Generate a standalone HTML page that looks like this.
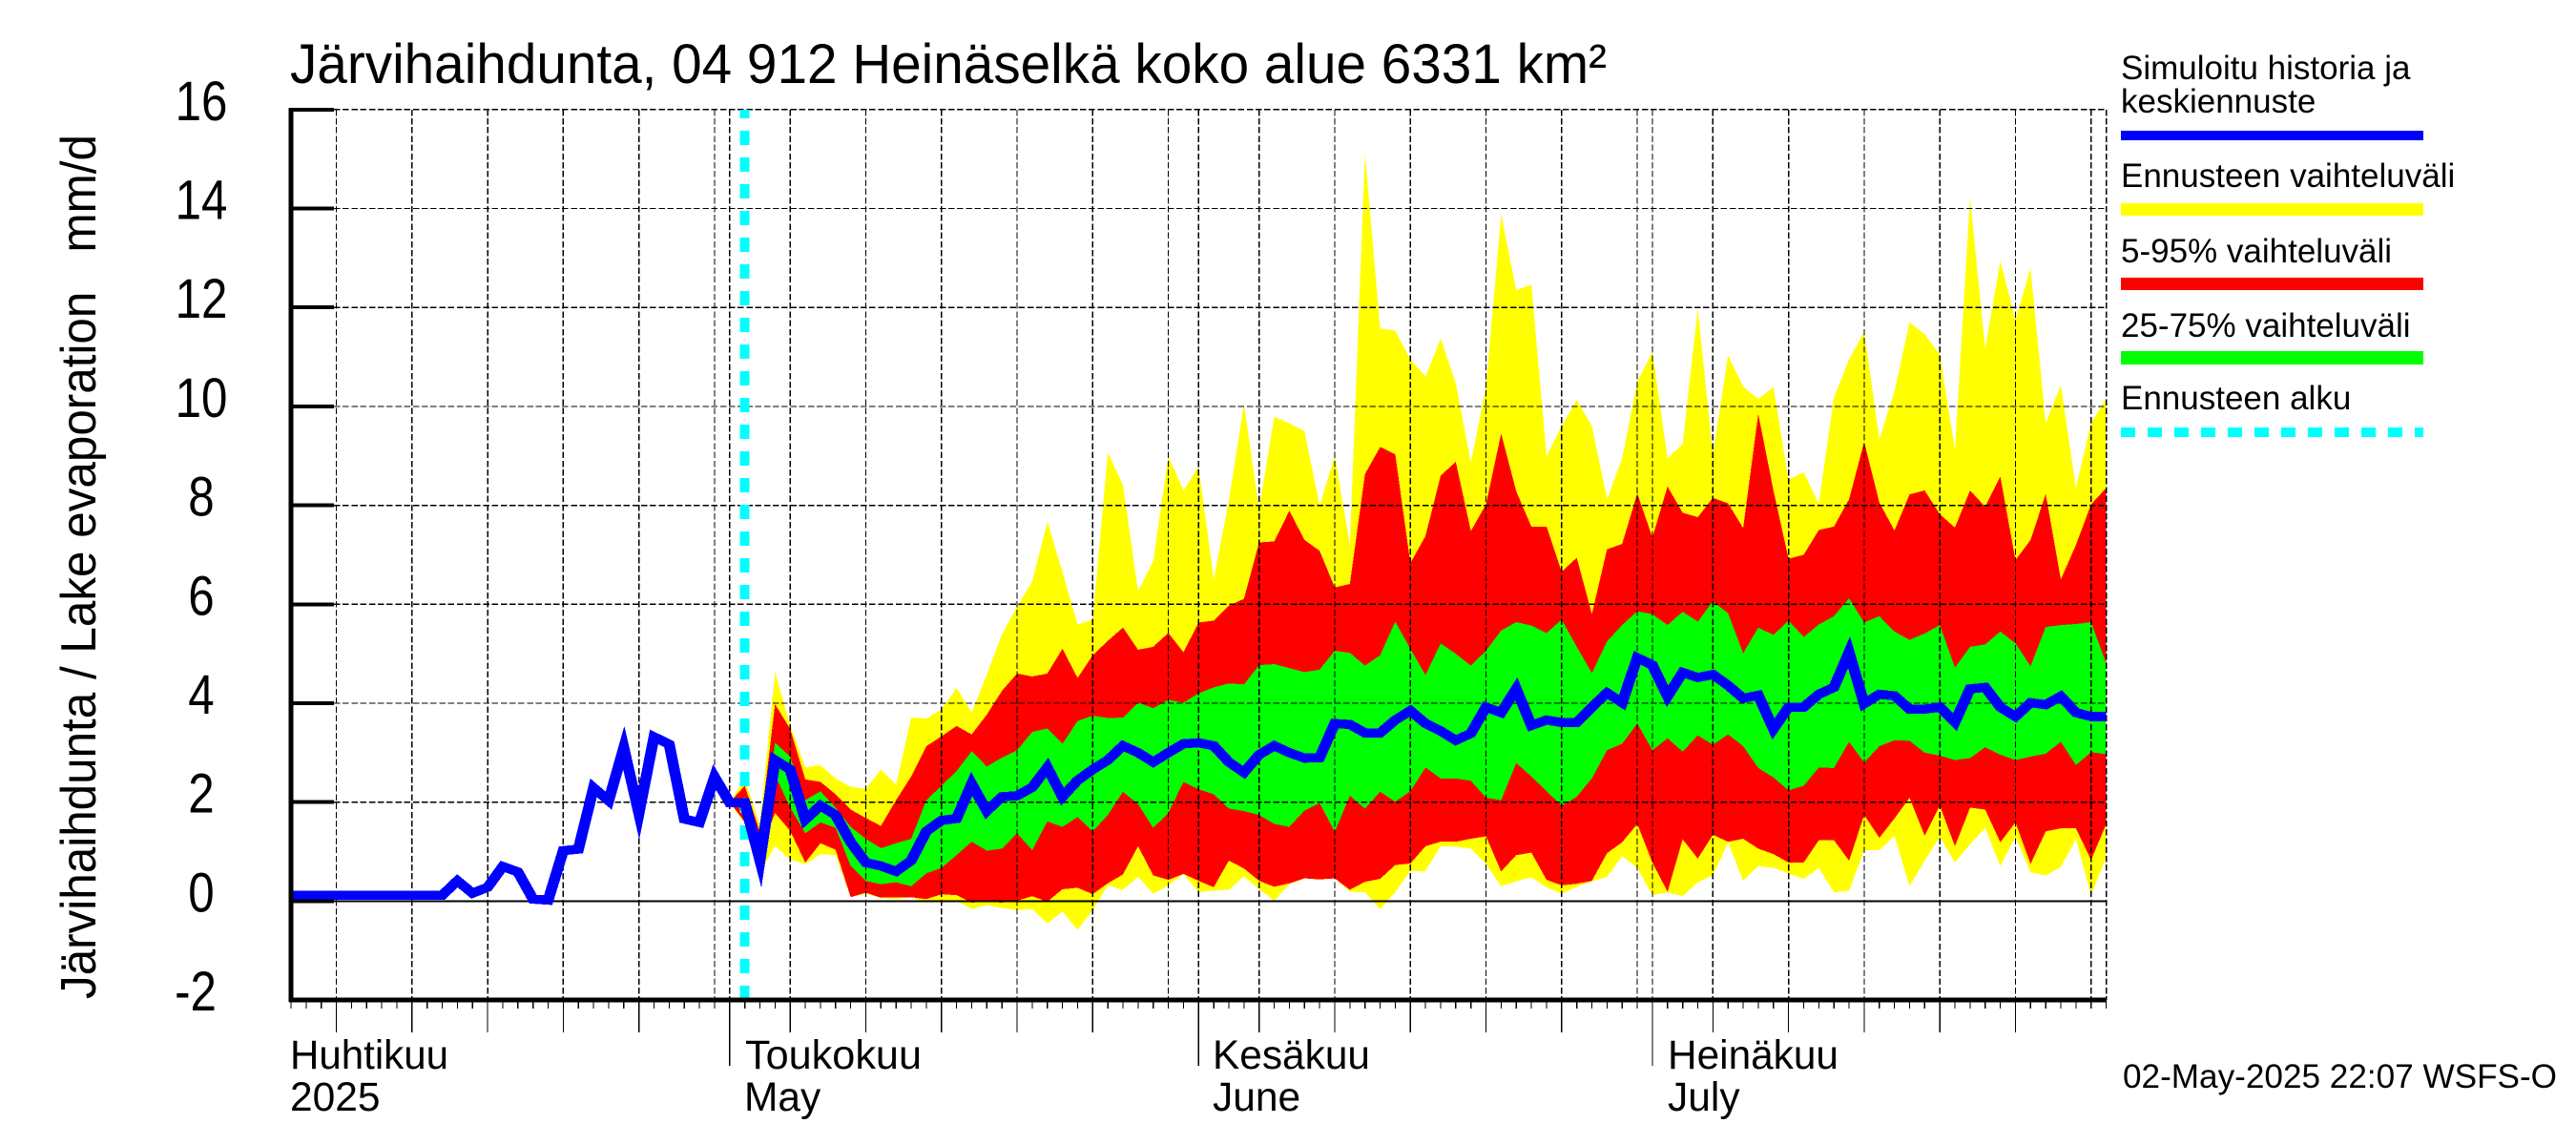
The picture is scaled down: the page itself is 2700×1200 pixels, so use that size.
<!DOCTYPE html>
<html lang="fi">
<head>
<meta charset="utf-8">
<title>Järvihaihdunta 04 912 Heinäselkä</title>
<style>
html,body{margin:0;padding:0;background:#fff;}
svg{display:block;}
text{font-family:"Liberation Sans",Arial,sans-serif;fill:#000;white-space:pre;}
</style>
</head>
<body>
<svg id="chart" xmlns="http://www.w3.org/2000/svg" width="2700" height="1200" viewBox="0 0 2700 1200">
  <rect x="0" y="0" width="2700" height="1200" fill="#fff"/>
  <text x="304" y="87" font-size="58" textLength="1380" lengthAdjust="spacingAndGlyphs">Järvihaihdunta, 04 912 Heinäselkä koko alue 6331 km²</text>
  <text transform="translate(100 1047) rotate(-90)" font-size="52" textLength="906" lengthAdjust="spacingAndGlyphs">Järvihaihdunta / Lake evaporation   mm/d</text>

  <g id="bands" shape-rendering="crispEdges"></g>
  <g id="grid" shape-rendering="crispEdges"></g>
  <g id="start" shape-rendering="crispEdges"></g>
  <g id="series" shape-rendering="crispEdges"></g>
  <g id="axes" shape-rendering="crispEdges"></g>
  <g id="yLabels"></g>

  <g font-size="42.5">
    <text x="304" y="1120" textLength="166" lengthAdjust="spacingAndGlyphs">Huhtikuu</text>
    <text x="304" y="1164">2025</text>
    <text x="781" y="1120" textLength="185" lengthAdjust="spacingAndGlyphs">Toukokuu</text>
    <text x="780" y="1164">May</text>
    <text x="1271" y="1120" textLength="165" lengthAdjust="spacingAndGlyphs">Kesäkuu</text>
    <text x="1271" y="1164">June</text>
    <text x="1748" y="1120" textLength="179" lengthAdjust="spacingAndGlyphs">Heinäkuu</text>
    <text x="1748" y="1164">July</text>
  </g>

  <g font-size="35">
    <text x="2223" y="83">Simuloitu historia ja</text>
    <text x="2223" y="118">keskiennuste</text>
    <rect x="2223" y="137" width="317" height="10" fill="#0000ff"/>
    <text x="2223" y="196">Ennusteen vaihteluväli</text>
    <rect x="2223" y="213" width="317" height="13" fill="#ffff00"/>
    <text x="2223" y="275">5-95% vaihteluväli</text>
    <rect x="2223" y="291" width="317" height="13" fill="#ff0000"/>
    <text x="2223" y="353">25-75% vaihteluväli</text>
    <rect x="2223" y="368" width="317" height="14" fill="#00ff00"/>
    <text x="2223" y="429">Ennusteen alku</text>
    <line x1="2223" y1="453" x2="2540" y2="453" stroke="#00ffff" stroke-width="10" stroke-dasharray="15 13" shape-rendering="crispEdges"/>
  </g>

  <text x="2225" y="1140" font-size="35" textLength="455" lengthAdjust="spacingAndGlyphs">02-May-2025 22:07 WSFS-O</text>
</svg>

<script>
// Chart data -------------------------------------------------------------
// Days are counted from the left edge of the axis (2 April 2025 = day 0).
const yTickValues = [16, 14, 12, 10, 8, 6, 4, 2, 0, -2];
const monthTickDays = [29, 60, 90];
const majorTickDays = [3, 8, 13, 18, 23, 33, 38, 43, 48, 53, 64, 69, 74, 79, 84, 94, 99, 104, 109, 114];
const gridDays = [3, 8, 13, 18, 23, 28, 29, 33, 38, 43, 48, 53, 58, 60, 64, 69, 74, 79, 84, 89, 90, 94, 99, 104, 109, 114, 119, 120];
const lastDay = 120;
const forecastFirstDay = 29;
const forecastStartDay = 30;

const simulatedValues = [
  0.12,0.12,0.12,0.12,0.12,0.12,0.12,0.12,0.12,0.12,0.12,0.41,0.16,0.28,0.7,0.59,0.04,0.02,1.02,1.05,
  2.29,2.03,3.1,1.77,3.32,3.17,1.66,1.59,2.51,1.99,1.99,0.82,2.85,2.66,1.65,1.93,1.74,1.19,0.78,0.71,
  0.6,0.82,1.41,1.63,1.67,2.37,1.82,2.11,2.13,2.3,2.7,2.11,2.44,2.66,2.85,3.14,3.0,2.81,3.0,3.18,
  3.2,3.14,2.81,2.6,2.96,3.14,3.0,2.89,2.9,3.59,3.57,3.4,3.4,3.66,3.85,3.59,3.44,3.25,3.39,3.92,
  3.81,4.29,3.55,3.66,3.61,3.61,3.92,4.21,4.01,4.92,4.77,4.14,4.62,4.52,4.58,4.36,4.1,4.16,3.48,3.92,
  3.92,4.18,4.32,5.03,3.99,4.18,4.15,3.88,3.88,3.92,3.62,4.29,4.32,3.92,3.73,4.01,3.97,4.14,3.81,3.73,3.73
];

const rangeMax = [
  2.0,2.46,1.55,4.63,3.55,2.7,2.75,2.48,2.31,2.27,2.66,2.35,3.71,3.69,3.87,4.31,3.81,4.58,5.39,5.95,6.46,
  7.67,6.65,5.59,5.69,9.07,8.41,6.26,6.87,8.99,8.3,8.78,6.5,8.1,10.04,7.93,9.79,9.66,9.5,7.99,8.99,
  7.21,15.1,11.58,11.53,10.95,10.6,11.37,10.47,8.86,10.4,13.88,12.35,12.46,8.99,9.6,10.13,9.6,8.12,8.95,10.5,
  11.1,8.95,9.24,11.97,9.02,11.03,10.4,10.15,10.39,8.52,8.67,8.03,10.18,10.95,11.5,9.34,10.3,11.7,11.46,11.05,
  9.12,14.22,11.17,12.93,11.75,12.79,9.66,10.43,8.35,9.66,10.16
];
const p95 = [
  2.0,2.33,1.4,3.98,3.48,2.46,2.41,2.16,1.85,1.68,1.52,2.04,2.52,3.13,3.33,3.54,3.37,3.77,4.25,4.6,4.54,
  4.6,5.1,4.51,4.97,5.26,5.53,5.08,5.14,5.42,5.03,5.63,5.67,5.97,6.11,7.25,7.27,7.89,7.3,7.08,6.34,
  6.41,8.63,9.18,9.03,6.83,7.38,8.6,8.88,7.48,8.02,9.45,8.28,7.57,7.57,6.66,6.94,5.8,7.11,7.22,8.24,
  7.35,8.38,7.85,7.76,8.15,8.04,7.54,9.85,8.3,6.92,7.0,7.5,7.57,8.12,9.28,8.06,7.49,8.22,8.3,7.82,
  7.55,8.3,7.97,8.58,6.89,7.3,8.23,6.5,7.2,8.02,8.35
];
const p75 = [
  2.0,2.1,1.1,3.2,2.92,2.04,2.22,1.89,1.5,1.26,1.07,1.17,1.26,2.04,2.33,2.63,3.03,2.72,2.9,3.05,3.42,
  3.49,3.18,3.64,3.75,3.7,3.71,4.01,3.9,4.07,4.01,4.2,4.32,4.4,4.38,4.77,4.79,4.71,4.63,4.68,5.06,
  5.02,4.76,4.97,5.65,5.1,4.57,5.21,5.0,4.76,5.06,5.47,5.64,5.57,5.42,5.69,5.14,4.61,5.25,5.58,5.86,
  5.8,5.58,5.85,5.65,6.06,5.82,5.01,5.53,5.38,5.67,5.34,5.59,5.76,6.12,5.63,5.76,5.45,5.28,5.41,5.58,
  4.72,5.14,5.19,5.45,5.21,4.75,5.54,5.58,5.6,5.64,4.8
];
const p25 = [
  2.0,1.9,1.0,2.55,1.89,1.37,1.59,1.48,0.71,0.41,0.34,0.38,0.3,0.56,0.67,0.93,1.2,1.02,1.06,1.37,1.03,
  1.61,1.5,1.7,1.41,1.74,2.21,1.96,1.48,1.78,2.41,2.26,2.16,1.87,1.82,1.74,1.56,1.5,1.83,1.98,1.4,
  2.13,1.87,2.21,2.01,2.22,2.7,2.48,2.48,2.43,2.09,2.04,2.79,2.52,2.22,1.93,2.11,2.48,3.05,3.18,3.59,
  3.05,3.29,3.02,3.35,3.16,3.37,3.13,2.69,2.5,2.24,2.33,2.7,2.69,3.22,2.8,3.13,3.25,3.24,3.0,2.94,
  2.85,2.89,3.11,2.96,2.85,2.92,2.98,3.22,2.75,3.01,2.97
];
const p5 = [
  2.0,1.6,1.0,1.78,1.42,0.78,1.17,1.04,0.08,0.17,0.07,0.08,0.08,0.04,0.14,0.12,-0.03,-0.01,-0.03,0.01,0.1,
  -0.01,0.24,0.27,0.14,0.36,0.54,1.11,0.52,0.43,0.55,0.41,0.28,0.82,0.66,0.41,0.29,0.36,0.46,0.44,0.46,
  0.23,0.39,0.45,0.73,0.76,1.11,1.2,1.2,1.26,1.31,0.6,0.93,0.98,0.43,0.32,0.35,0.41,0.97,1.19,1.56,
  0.78,0.19,1.25,0.86,1.34,1.2,1.26,1.06,0.95,0.78,0.78,1.23,1.23,0.82,1.74,1.28,1.67,2.09,1.32,1.93,
  1.11,1.89,1.85,1.19,1.59,0.75,1.41,1.47,1.47,0.83,1.56
];
const rangeMin = [
  2.0,1.56,0.56,1.12,0.84,0.75,0.95,0.93,0.08,0.15,0.06,0.04,0.08,-0.03,0.01,0.01,-0.16,-0.08,-0.14,-0.18,-0.16,
  -0.45,-0.21,-0.58,-0.18,0.32,0.23,0.49,0.15,0.32,0.55,0.18,0.21,0.23,0.5,0.24,0.01,0.34,0.46,0.43,0.46,
  0.19,0.18,-0.16,0.18,0.61,0.61,1.11,1.1,1.06,0.75,0.3,0.4,0.48,0.28,0.15,0.29,0.4,0.49,0.91,0.67,
  0.12,0.18,0.1,0.38,0.52,1.19,0.41,0.71,0.67,0.56,0.45,0.67,0.18,0.21,1.03,1.03,1.32,0.3,0.82,1.3,
  0.78,1.15,1.48,0.71,1.3,0.58,0.52,0.69,1.26,0.12,0.89
];

// Axis functions ---------------------------------------------------------
const NS = 'http://www.w3.org/2000/svg';
function xAt(day) { return 305 + day * 15.855; }
function yAt(value) { return 944.4 - value * 51.85; }

function shape(parent, tag, attrs) {
  const el = document.createElementNS(NS, tag);
  for (const key in attrs) el.setAttribute(key, attrs[key]);
  parent.appendChild(el);
  return el;
}
function bandPoints(upper, lower) {
  const pts = [];
  upper.forEach(function (v, i) { pts.push(xAt(forecastFirstDay + i).toFixed(2) + ',' + yAt(v).toFixed(2)); });
  for (let i = lower.length - 1; i >= 0; i--) pts.push(xAt(forecastFirstDay + i).toFixed(2) + ',' + yAt(lower[i]).toFixed(2));
  return pts.join(' ');
}

// Bands ------------------------------------------------------------------
const bands = document.getElementById('bands');
const bandFull = shape(bands, 'polygon', { points: bandPoints(rangeMax, rangeMin), fill: '#ffff00' });


const band90 = shape(bands, 'polygon', { points: bandPoints(p95, p5), fill: '#ff0000' });


const band50 = shape(bands, 'polygon', { points: bandPoints(p75, p25), fill: '#00ff00' });



// Grid -------------------------------------------------------------------
const grid = document.getElementById('grid');
gridDays.forEach(function (day) {
  const line = shape(grid, 'line', { x1: xAt(day), y1: yAt(16), x2: xAt(day), y2: yAt(-2), stroke: '#000', 'stroke-width': 1.3, 'stroke-dasharray': '6.5 2.7' });
  
  
});
yTickValues.forEach(function (value) {
  if (value === 0) {
    const zero = shape(grid, 'line', { x1: 350, y1: yAt(0), x2: xAt(lastDay), y2: yAt(0), stroke: '#000', 'stroke-width': 2 });
    
    
  } else if (value !== -2) {
    const line = shape(grid, 'line', { x1: 350, y1: yAt(value), x2: xAt(lastDay), y2: yAt(value), stroke: '#000', 'stroke-width': 1.3, 'stroke-dasharray': '6.5 2.7' });
    
    
  }
});

// Forecast start marker ----------------------------------------------------
const startGroup = document.getElementById('start');
const startLine = shape(startGroup, 'line', { x1: xAt(forecastStartDay), y1: yAt(-2), x2: xAt(forecastStartDay), y2: yAt(16), stroke: '#00ffff', 'stroke-width': 10, 'stroke-dasharray': '15 13' });



// Simulated line: pen is wider horizontally than vertically, as in the source plot.
const seriesGroup = document.getElementById('series');
const penStretch = 1.2;
const simPoints = simulatedValues.map(function (v, i) { return (xAt(i) / penStretch).toFixed(2) + ',' + yAt(v).toFixed(2); }).join(' ');
const simLine = shape(seriesGroup, 'polyline', { points: simPoints, transform: 'scale(' + penStretch + ' 1)', fill: 'none', stroke: '#0000ff', 'stroke-width': 9.6, 'stroke-linejoin': 'miter', 'stroke-miterlimit': 10 });



// Axes -------------------------------------------------------------------
const axes = document.getElementById('axes');
const yAxis = shape(axes, 'line', { x1: 305, y1: yAt(16) - 2, x2: 305, y2: yAt(-2) + 2, stroke: '#000', 'stroke-width': 5 });


const xAxis = shape(axes, 'line', { x1: 303, y1: yAt(-2), x2: xAt(lastDay), y2: yAt(-2), stroke: '#000', 'stroke-width': 5 });



yTickValues.forEach(function (value) {
  if (value === -2) return;
  const tick = shape(axes, 'line', { x1: 305, y1: yAt(value), x2: 350, y2: yAt(value), stroke: '#000', 'stroke-width': 4 });
  
  
});

for (let day = 0; day <= lastDay; day++) {
  let bottom = 1057;
  if (majorTickDays.indexOf(day) >= 0) bottom = 1082;
  if (monthTickDays.indexOf(day) >= 0) bottom = 1117;
  const tick = shape(axes, 'line', { x1: xAt(day), y1: 1048, x2: xAt(day), y2: bottom, stroke: '#000', 'stroke-width': 1.2 });
  
  
}

// Y tick labels ----------------------------------------------------------
const yLabels = document.getElementById('yLabels');
yTickValues.forEach(function (value) {
  const cx = value === -2 ? 205 : 211;
  const label = shape(yLabels, 'text', { transform: 'translate(' + cx + ' ' + (yAt(value) + 11) + ') scale(0.85 1)', 'text-anchor': 'middle', 'font-size': 58 });
  
  
  label.textContent = String(value);
});
</script>
</body>
</html>
